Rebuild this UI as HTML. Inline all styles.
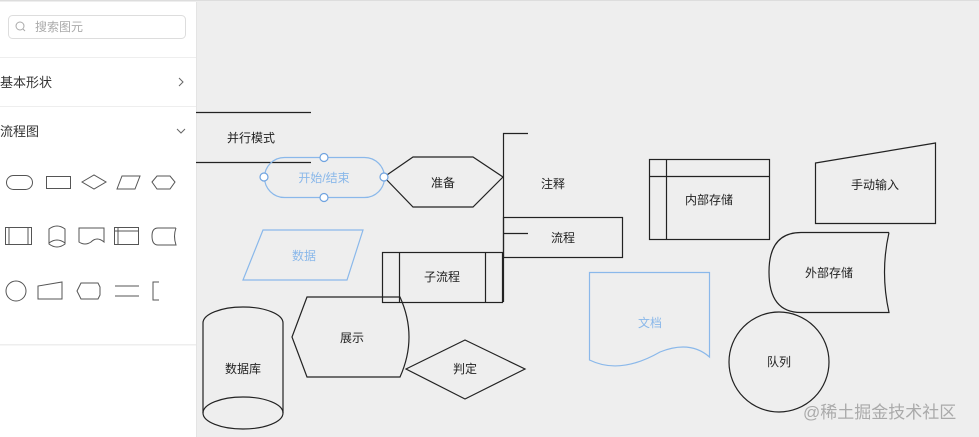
<!DOCTYPE html>
<html><head><meta charset="utf-8"><style>
html,body{margin:0;padding:0;width:979px;height:437px;overflow:hidden;background:#fff;font-family:"Liberation Sans","Noto Sans CJK SC",sans-serif;}
svg{position:absolute;left:0;top:0}
</style></head><body>
<svg width="979" height="437" viewBox="0 0 979 437" xmlns="http://www.w3.org/2000/svg" font-family="Liberation Sans, Noto Sans CJK SC, sans-serif">
<rect x="0" y="0" width="979" height="437" fill="#fff"/>
<rect x="0" y="0" width="979" height="1.5" fill="#ddd"/>
<rect x="196" y="2" width="783" height="435" fill="#eeeeee"/>
<rect x="196" y="2" width="1" height="435" fill="#e4e4e4"/>
<!-- sidebar -->
<rect x="8.5" y="15.5" width="177" height="23" rx="4" fill="#fff" stroke="#ddd"/>
<circle cx="20" cy="26" r="4" fill="none" stroke="#aaa" stroke-width="1"/>
<line x1="23" y1="29" x2="25" y2="31" stroke="#aaa"/>
<text x="35" y="31" font-size="12" fill="#aaa">搜索图元</text>
<rect x="0" y="57" width="196" height="1" fill="#eee"/>
<rect x="0" y="106" width="196" height="1" fill="#eee"/>
<rect x="0" y="344" width="196" height="1.5" fill="#eee"/>
<text x="0" y="87" font-size="13" fill="#333">基本形状</text>
<polyline points="179,78 183,82 179,86" fill="none" stroke="#666"/>
<text x="0" y="136" font-size="13" fill="#333">流程图</text>
<polyline points="177,129 181,133 185,129" fill="none" stroke="#666"/>
<g fill="none" stroke="#555" stroke-width="1">
<rect x="6.5" y="175.5" width="26" height="14" rx="7"/>
<rect x="46.5" y="176.5" width="24" height="12"/>
<polygon points="82,182 94,175 106,182 94,189"/>
<polygon points="117,189 122,176 140,176 135,189"/>
<polygon points="152,182 157,176 170,176 175,182 170,189 157,189"/>
<rect x="5.5" y="227.5" width="26" height="17"/><line x1="9" y1="228" x2="9" y2="244"/><line x1="28" y1="228" x2="28" y2="244"/>
<path d="M49,229 Q57,223 65,229 V244 Q57,250 49,244 Z"/><path d="M49,243 Q57,237 65,243"/>
<path d="M79,228 H104 V242 Q97,236 91,242 Q85,246 79,242 Z"/>
<rect x="114.5" y="227.5" width="24" height="17"/><line x1="115" y1="231" x2="138" y2="231"/><line x1="118" y1="228" x2="118" y2="244"/>
<path d="M176,228 H158 Q152,228 152,236 Q152,245 158,245 H176 Q173,236 176,228"/>
<circle cx="16" cy="291" r="10"/>
<polygon points="38,299 38,286 62,282 62,299"/>
<polygon points="77,291 81,283 98,283 100,287 100,295 98,299 81,299"/>
<line x1="115" y1="286" x2="139" y2="286"/><line x1="115" y1="296" x2="139" y2="296"/>
<polyline points="159,282 153,282 153,300 159,300"/>
</g>
<!-- canvas shapes -->
<g fill="none" stroke="#222" stroke-width="1.2">
<line x1="196" y1="112.5" x2="311" y2="112.5"/>
<line x1="196" y1="162.5" x2="311" y2="162.5"/>
<polygon points="384,177 413,157 473,157 503,177 473,207 413,207"/>
<polyline points="528,133.5 503.5,133.5 503.5,302"/>
<line x1="503" y1="233.5" x2="528" y2="233.5"/>
<rect x="503.5" y="217.5" width="119" height="40"/>
<rect x="382.5" y="252.5" width="120" height="50"/>
<line x1="399.5" y1="252" x2="399.5" y2="302"/><line x1="485.5" y1="252" x2="485.5" y2="302"/>
<path d="M307,297 H400 Q418,337 400,377 H307 L292,337 Z"/>
<polygon points="406,369 465,340 525,369 465,399"/>
<path d="M203,323 A40,16 0 0 1 283,323 V413 A40,16 0 0 1 203,413 Z"/>
<path d="M203,413 A40,16 0 0 1 283,413"/>
<rect x="649.5" y="159.5" width="120" height="80"/>
<line x1="666.5" y1="160" x2="666.5" y2="239"/><line x1="650" y1="176.5" x2="769" y2="176.5"/>
<polygon points="815.5,163 935.5,143 935.5,223.5 815.5,223.5"/>
<path d="M889,232.5 H801 Q769,232.5 769,272 Q769,312.5 801,312.5 H889 Q880,272 889,232.5"/>
<circle cx="779" cy="362" r="50"/>
</g>
<g fill="none" stroke="#8ab8ea" stroke-width="1.2">
<rect x="264.5" y="157.5" width="120" height="40" rx="20"/>
<polygon points="243,280 263,230 363,230 347,280"/>
<path d="M589.5,272.5 H709.5 V357 Q690,340 660,352 Q620,375 589.5,360 Z"/>
</g>
<g fill="#fff" stroke="#6fa3e0" stroke-width="1.2">
<circle cx="324" cy="157.5" r="4"/><circle cx="264" cy="177" r="4"/><circle cx="384" cy="177" r="4"/><circle cx="324" cy="197.5" r="4"/>
</g>
<g font-size="12" fill="#222" text-anchor="middle">
<text x="251" y="142">并行模式</text>
<text x="443" y="187">准备</text>
<text x="553" y="188">注释</text>
<text x="563" y="242">流程</text>
<text x="442" y="281">子流程</text>
<text x="352" y="342">展示</text>
<text x="465" y="373">判定</text>
<text x="243" y="373">数据库</text>
<text x="709" y="204">内部存储</text>
<text x="875" y="189">手动输入</text>
<text x="829" y="277">外部存储</text>
<text x="779" y="366">队列</text>
</g>
<g font-size="12" fill="#8ab8ea" text-anchor="middle">
<text x="324" y="182">开始/结束</text>
<text x="304" y="260">数据</text>
<text x="650" y="327">文档</text>
</g>
<text x="803" y="418" font-size="17" fill="#aaa">@稀土掘金技术社区</text>
</svg>
</body></html>
